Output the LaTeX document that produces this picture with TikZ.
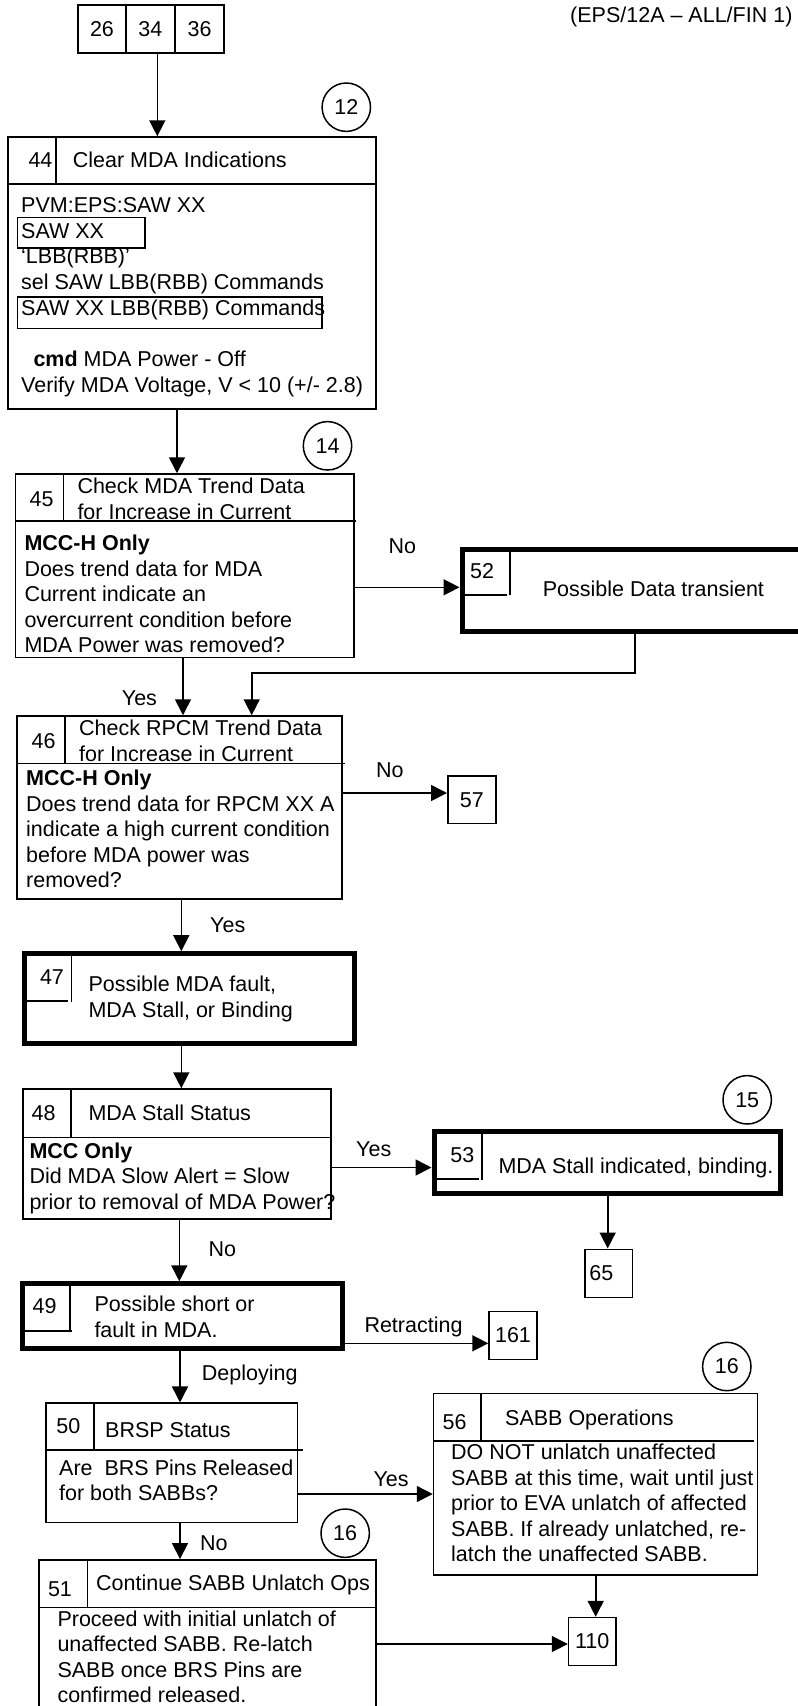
\documentclass[tikz,border=0pt]{standalone}
\usepackage{fontspec}
\setmainfont{Liberation Sans}
\usepackage{tikz}
\usepackage{xcolor}
\usetikzlibrary{arrows.meta,fit}
\definecolor{ink}{HTML}{000000}
\tikzset{
  panel/.style={draw=ink,line width=1.5pt,inner sep=0pt},
  heavypanel/.style={draw=ink,line width=5pt,inner sep=0pt},
  rule/.style={draw=ink,line width=1.5pt},
  cellbox/.style={draw=ink,line width=1.5pt,inner sep=0pt,
                  minimum width=48pt,minimum height=48pt},
  refcircle/.style={draw=ink,circle,line width=1.5pt,inner sep=0pt,
                    minimum size=48.4pt},
  flowarr/.style={-{Triangle[length=16pt,width=16pt]},line width=1.6pt,draw=ink},
  numtext/.style={anchor=base,inner sep=0pt},
  linetext/.style={anchor=base west,inner sep=0pt},
  bodytext/.style={anchor=north west,align=left,inner sep=0pt,
                   yshift=17.85pt,execute at begin node=\strut}
}

\begin{document}
\begin{tikzpicture}[x=1pt,y=-1pt,font=\fontsize{21.5}{25.5}\selectfont]
  \useasboundingbox (0,0) rectangle (798,1706);
  \clip (0,0) rectangle (798,1706);
  \node[linetext] (tag) at (570,22.7) {(EPS/12A – ALL/FIN 1)};

  \node[cellbox,minimum width=47.6pt] (n26) at (102,29.2) {26};
  \node[cellbox,minimum width=49.2pt] (n34) at (150.4,29.2) {34};
  \node[cellbox,minimum width=49.2pt] (n36) at (199.6,29.2) {36};
  \coordinate (k1) at (157.3,0);

  \node[refcircle] (r12) at (346.3,107.2) {12};
  \node[panel,fit={(8.2,137) (376,409)}] (b44) {};
  \draw[rule] (8.2,184) -- (376,184);
  \draw[rule] (56,137) -- (56,184);
  \node[numtext] (b44n) at (40.5,167) {44};
  \node[linetext] (b44t) at (72.7,167) {Clear MDA Indications};
  \node[panel,fit={(17.5,217.5) (145.2,248.2)}] (sawa) {};
  \node[panel,fit={(17.5,296.8) (321.8,328.5)}] (sawb) {};
  \node[bodytext,font=\fontsize{21.5}{25.7}\selectfont] (b44x) at (21,215)
    {PVM:EPS:SAW XX\\SAW XX\\‘LBB(RBB)’\\sel SAW LBB(RBB) Commands\\
     SAW XX LBB(RBB) Commands\\~\\\hspace*{12.3pt}\textbf{cmd} MDA Power - Off\\
     Verify MDA Voltage, V < 10 (+/- 2.8)};
  \draw[flowarr] (n34.south -| k1) -- (b44.north -| k1);

  \node[refcircle] (r14) at (327.5,445.8) {14};
  \node[panel,fit={(15.5,474) (354,657.5)}] (b45) {};
  \draw[rule] (15.5,521) -- (356,521);
  \draw[rule] (63.5,474) -- (63.5,521);
  \node[numtext] (b45n) at (41.7,506) {45};
  \node[bodytext] (b45t) at (77.3,496) {Check MDA Trend Data\\for Increase in Current};
  \node[bodytext] (b45x) at (24.3,553)
    {\textbf{MCC-H Only}\\Does trend data for MDA\\Current indicate an\\
     overcurrent condition before\\MDA Power was removed?};
  \coordinate (k2) at (177,0);
  \draw[flowarr] (b44.south -| k2) -- (b45.north -| k2);

  \node[heavypanel,fit={(462,549.7) (801,631)}] (b52) {};
  \draw[rule] (510,549.7) -- (510,595);
  \draw[rule] (462,595) -- (507,595);
  \node[numtext] (b52n) at (482,578) {52};
  \node[linetext] (b52t) at (542.7,596) {Possible Data transient};
  \coordinate (k3) at (0,587.3);
  \draw[flowarr] (b45.east |- k3) -- (b52.west |- k3);
  \node[linetext] (no45) at (388.3,553) {No};

  \node[panel,fit={(17,716) (342,899)}] (b46) {};
  \draw[rule] (17,763.5) -- (345,763.5);
  \draw[rule] (65,716) -- (65,763.5);
  \node[numtext] (b46n) at (43.7,748) {46};
  \node[bodytext] (b46t) at (79,738) {Check RPCM Trend Data\\for Increase in Current};
  \node[bodytext] (b46x) at (26,788)
    {\textbf{MCC-H Only}\\Does trend data for RPCM XX A\\indicate a high current condition\\
     before MDA power was\\removed?};
  \coordinate (k4) at (183,0);
  \draw[flowarr] (b45.south -| k4) -- (b46.north -| k4);
  \node[linetext] (yes45) at (121.7,705) {Yes};
  \coordinate (t52) at (635,673);
  \coordinate (j52) at (251.7,673);
  \draw[flowarr] (b52.south -| t52) -- (t52) -- (j52) -- (b46.north -| j52);

  \node[cellbox,minimum width=48.3pt,minimum height=47.5pt] (n57) at (471.9,799.8) {57};
  \coordinate (k5) at (0,793);
  \draw[flowarr] (b46.east |- k5) -- (n57.west |- k5);
  \node[linetext] (no46) at (376,777) {No};

  \node[heavypanel,fit={(24,953.7) (354,1043)}] (b47) {};
  \draw[rule] (71.5,953.7) -- (71.5,1001.7);
  \draw[rule] (24,1001) -- (68.3,1001);
  \node[numtext] (b47n) at (52,984) {47};
  \node[bodytext] (b47t) at (88.3,994) {Possible MDA fault,\\MDA Stall, or Binding};
  \coordinate (k6) at (181.3,0);
  \draw[flowarr] (b46.south -| k6) -- (b47.north -| k6);
  \node[linetext] (yes46) at (210,932) {Yes};

  \node[panel,fit={(23,1089) (331,1219)}] (b48) {};
  \draw[rule] (23,1137.5) -- (331,1137.5);
  \draw[rule] (71,1089) -- (71,1137.5);
  \node[numtext] (b48n) at (43.7,1120.5) {48};
  \node[linetext] (b48t) at (88.3,1120.5) {MDA Stall Status};
  \node[bodytext] (b48x) at (29.3,1160.5)
    {\textbf{MCC Only}\\Did MDA Slow Alert = Slow\\prior to removal of MDA Power?};
  \draw[flowarr] (b47.south -| k6) -- (b48.north -| k6);

  \node[refcircle] (r15) at (747.2,1099.8) {15};
  \node[heavypanel,fit={(434,1131.8) (780,1193)}] (b53) {};
  \draw[rule] (481.8,1131.8) -- (481.8,1180);
  \draw[rule] (434,1179) -- (479,1179);
  \node[numtext] (b53n) at (462.3,1162.7) {53};
  \node[linetext] (b53t) at (498.3,1173.3) {MDA Stall indicated, binding.};
  \coordinate (k7) at (0,1167.5);
  \draw[flowarr] (b48.east |- k7) -- (b53.west |- k7);
  \node[linetext] (yes48) at (356,1156) {Yes};

  \node[cellbox,minimum width=47.5pt,minimum height=48.3pt,
        text width=39pt,align=left,inner xsep=4.3pt] (n65) at (608.8,1273.4) {65};
  \coordinate (k8) at (607.7,0);
  \draw[flowarr] (b53.south -| k8) -- (n65.north -| k8);

  \node[heavypanel,fit={(22,1283.8) (342,1348.8)}] (b49) {};
  \draw[rule] (70.2,1283.8) -- (70.2,1330.7);
  \draw[rule] (22,1330.8) -- (72.3,1330.8);
  \node[numtext] (b49n) at (44.7,1313.3) {49};
  \node[bodytext] (b49t) at (94.3,1314) {Possible short or\\fault in MDA.};
  \coordinate (k9) at (179.3,0);
  \draw[flowarr] (b48.south -| k9) -- (b49.north -| k9);
  \node[linetext] (no48) at (208.3,1256) {No};

  \node[cellbox] (n161) at (513,1335.5) {161};
  \coordinate (k10) at (0,1343.3);
  \draw[flowarr] (b49.east |- k10) -- (n161.west |- k10);
  \node[linetext] (retr) at (364.3,1332) {Retracting};

  \node[panel,fit={(45.8,1403.2) (297.5,1522.5)}] (b50) {};
  \draw[rule] (45.8,1450.2) -- (302.7,1450.2);
  \draw[rule] (94.2,1403.2) -- (94.2,1450.2);
  \node[numtext] (b50n) at (68.3,1433.3) {50};
  \node[linetext] (b50t) at (105,1437.7) {BRSP Status};
  \node[bodytext] (b50x) at (59,1477.3) {Are\ \ BRS Pins Released\\for both SABBs?};
  \coordinate (k11) at (180,0);
  \draw[flowarr] (b49.south -| k11) -- (b50.north -| k11);
  \node[linetext] (depl) at (201.7,1380.5) {Deploying};

  \node[refcircle] (r16a) at (726.8,1366.5) {16};
  \node[panel,fit={(433.5,1393.5) (757.5,1575.2)}] (b56) {};
  \draw[rule] (433.5,1441) -- (754,1441);
  \draw[rule] (481,1393.5) -- (481,1441);
  \node[numtext] (b56n) at (454.7,1429.3) {56};
  \node[linetext] (b56t) at (505,1425) {SABB Operations};
  \node[bodytext] (b56x) at (451,1461.7)
    {DO NOT unlatch unaffected\\SABB at this time, wait until just\\prior to EVA unlatch of affected\\
     SABB. If already unlatched, re-\\latch the unaffected SABB.};
  \coordinate (k12) at (0,1494);
  \draw[flowarr] (b50.east |- k12) -- (b56.west |- k12);
  \node[linetext] (yes50) at (373.3,1486) {Yes};

  \node[refcircle] (r16b) at (345.2,1533.2) {16};
  \node[panel,fit={(39.2,1559.8) (375.8,1725)}] (b51) {};
  \draw[rule] (39.2,1607.5) -- (375.8,1607.5);
  \draw[rule] (87.5,1559.8) -- (87.5,1607.5);
  \node[numtext] (b51n) at (60,1596) {51};
  \node[linetext] (b51t) at (96,1590) {Continue SABB Unlatch Ops};
  \node[bodytext] (b51x) at (57.3,1628.3)
    {Proceed with initial unlatch of\\unaffected SABB. Re-latch\\SABB once BRS Pins are\\
     confirmed released.};
  \draw[flowarr] (b50.south -| k11) -- (b51.north -| k11);
  \node[linetext] (no50) at (200,1550) {No};

  \node[cellbox,minimum width=47.3pt,minimum height=47.7pt] (n110) at (592.2,1641.4) {110};
  \coordinate (k13) at (595.7,0);
  \draw[flowarr] (b56.south -| k13) -- (n110.north -| k13);
  \coordinate (k14) at (0,1644);
  \draw[flowarr] (b51.east |- k14) -- (n110.west |- k14);
\end{tikzpicture}
\end{document}
